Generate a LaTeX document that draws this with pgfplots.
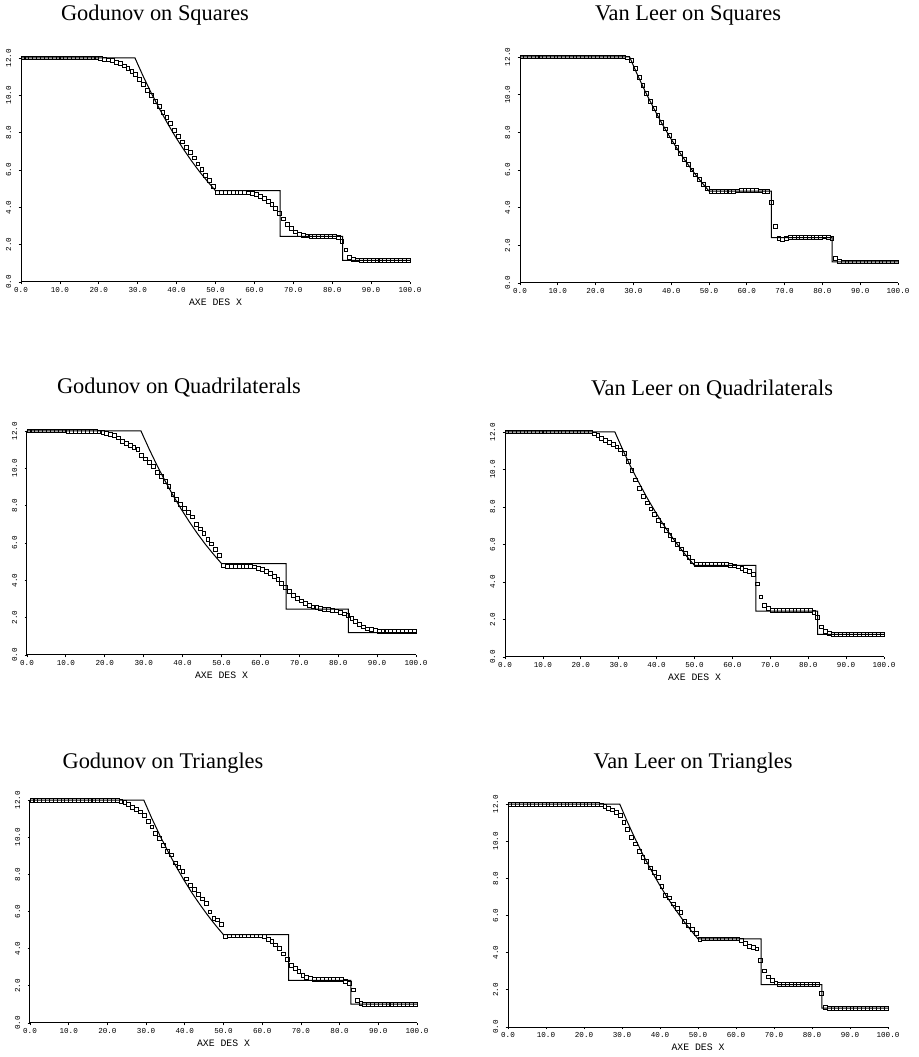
\documentclass[border=0pt]{standalone}
\usepackage{pgfplots}
\pgfplotsset{compat=1.18}
\usepackage{fontspec}
\setmainfont{Liberation Serif}
\newfontfamily\plotfont{Liberation Mono}
\newcommand{\tickfont}{\plotfont\fontsize{3.8}{4}\selectfont}
\newcommand{\labfont}{\plotfont\fontsize{4.9}{5}\selectfont}
\newcommand{\titfont}{\fontsize{11.2}{13}\selectfont}
\pgfplotsset{
  shockax/.style={
    scale only axis, clip=false, anchor=south west,
    xmin=0, xmax=100, ymin=0, ymax=12,
    axis lines=left, axis line style={-, line width=0.5pt},
    tick align=outside, major tick length=1.2pt,
    tick style={line width=0.4pt, black},
    xtick={0,10,20,30,40,50,60,70,80,90,100},
    ytick={0,2,4,6,8,10,12},
    /pgf/number format/fixed, /pgf/number format/fixed zerofill,
    /pgf/number format/precision=1, /pgf/number format/assume math mode=true,
    tick label style={font=\tickfont},
    xticklabel style={anchor=north, inner sep=0pt, yshift=-1.5pt},
    yticklabel style={xshift=-3.5pt, rotate=90, anchor=south, inner sep=0pt},
    every axis x label/.style={at={(axis description cs:0.5,0)}, anchor=center, yshift=-10pt, font=\labfont},
  },
  exact/.style={black, line width=0.5pt, no marks},
  num/.style={only marks, mark=square, mark size=0.95pt, mark options={black, line width=0.4pt}},
}
\begin{document}
\begin{tikzpicture}[x=1pt,y=1pt]
\useasboundingbox (0,0) rectangle (459,528.5);
% titles
\node[font=\titfont] at (77.5,521) {Godunov on Squares};
\node[font=\titfont] at (344,521) {Van Leer on Squares};
\node[font=\titfont] at (89.5,334.5) {Godunov on Quadrilaterals};
\node[font=\titfont] at (356,333.5) {Van Leer on Quadrilaterals};
\node[font=\titfont] at (81.5,147) {Godunov on Triangles};
\node[font=\titfont] at (346.5,147) {Van Leer on Triangles};

% ---------------- Godunov on Squares
\begin{axis}[shockax, at={(10.5pt,387.5pt)}, width=194.5pt, height=112pt, xlabel={AXE DES X}]
\addplot[exact] coordinates {(0,12)(29.3,12)(31.37,11.04)(33.44,10.14)(35.51,9.31)(37.58,8.53)(39.65,7.80)(41.72,7.13)(43.79,6.50)(45.86,5.92)(47.93,5.39)(50,4.89)(66.6,4.89)(66.6,2.45)(82.7,2.45)(82.7,1.16)(100,1.16)};
\addplot[num] coordinates {
(0.5,12)(1.5,12)(2.5,12)(3.5,12)(4.5,12)(5.5,12)(6.5,12)(7.5,12)(8.5,12)(9.5,12)
(10.5,12)(11.5,12)(12.5,12)(13.5,12)(14.5,12)(15.5,12)(16.5,12)(17.5,12)(18.5,12)(19.5,12)
(20.5,11.97)(21.5,11.94)(22.5,11.9)(23.5,11.85)(24.5,11.78)(25.5,11.69)(26.5,11.58)(27.5,11.45)(28.5,11.29)(29.5,11.1)
(30.5,10.85)(31.5,10.57)(32.5,10.28)(33.5,9.98)(34.5,9.68)(35.5,9.4)(36.5,9.1)(37.5,8.8)(38.5,8.48)(39.5,8.13)
(40.5,7.82)(41.5,7.5)(42.5,7.2)(43.5,6.93)(44.5,6.65)(45.5,6.33)(46.5,6.02)(47.5,5.72)(48.5,5.43)(49.5,5.12)
(50.5,4.82)(51.5,4.78)(52.5,4.79)(53.5,4.78)(54.5,4.78)(55.5,4.79)(56.5,4.78)(57.5,4.78)(58.5,4.77)(59.5,4.75)
(60.5,4.7)(61.5,4.6)(62.5,4.48)(63.5,4.33)(64.5,4.15)(65.5,3.95)(66.5,3.68)(67.5,3.38)(68.5,3.08)(69.5,2.85)
(70.5,2.68)(71.5,2.57)(72.5,2.5)(73.5,2.47)(74.5,2.45)(75.5,2.45)(76.5,2.45)(77.5,2.45)(78.5,2.45)(79.5,2.45)
(80.5,2.44)(81.5,2.38)(82.5,2.18)(83.5,1.72)(84.5,1.33)(85.5,1.22)(86.5,1.18)(87.5,1.16)(88.5,1.16)(89.5,1.16)
(90.5,1.16)(91.5,1.16)(92.5,1.16)(93.5,1.16)(94.5,1.16)(95.5,1.16)(96.5,1.16)(97.5,1.16)(98.5,1.16)(99.5,1.16)};
\end{axis}

% ---------------- Van Leer on Squares
\begin{axis}[shockax, at={(260pt,387pt)}, width=189pt, height=113pt]
\addplot[exact] coordinates {(0,12)(29,12)(31.1,11.04)(33.2,10.14)(35.3,9.31)(37.4,8.52)(39.5,7.80)(41.6,7.12)(43.7,6.50)(45.8,5.92)(47.9,5.38)(50,4.88)(66.5,4.88)(66.5,2.41)(82.6,2.41)(82.6,1.12)(100,1.12)};
\addplot[num] coordinates {
(0.5,12)(1.5,12)(2.5,12)(3.5,12)(4.5,12)(5.5,12)(6.5,12)(7.5,12)(8.5,12)(9.5,12)
(10.5,12)(11.5,12)(12.5,12)(13.5,12)(14.5,12)(15.5,12)(16.5,12)(17.5,12)(18.5,12)(19.5,12)
(20.5,12)(21.5,12)(22.5,12)(23.5,12)(24.5,12)(25.5,12)(26.5,12)(27.5,12)(28.5,11.95)(29.5,11.8)
(30.5,11.4)(31.5,10.92)(32.5,10.48)(33.5,10.06)(34.5,9.66)(35.5,9.28)(36.5,8.9)(37.5,8.54)(38.5,8.18)(39.5,7.84)
(40.5,7.5)(41.5,7.18)(42.5,6.87)(43.5,6.57)(44.5,6.28)(45.5,6.0)(46.5,5.74)(47.5,5.48)(48.5,5.24)(49.5,5.02)
(50.5,4.88)(51.5,4.86)(52.5,4.87)(53.5,4.86)(54.5,4.88)(55.5,4.87)(56.5,4.88)(57.5,4.89)(58.5,4.9)(59.5,4.91)
(60.5,4.92)(61.5,4.9)(62.5,4.9)(63.5,4.89)(64.5,4.88)(65.5,4.86)(66.5,4.3)(67.5,3.0)(68.5,2.36)(69.5,2.32)
(70.5,2.36)(71.5,2.4)(72.5,2.41)(73.5,2.42)(74.5,2.42)(75.5,2.43)(76.5,2.43)(77.5,2.44)(78.5,2.44)(79.5,2.44)
(80.5,2.45)(81.5,2.44)(82.5,2.36)(83.5,1.3)(84.5,1.16)(85.5,1.12)(86.5,1.12)(87.5,1.12)(88.5,1.12)(89.5,1.12)
(90.5,1.12)(91.5,1.12)(92.5,1.12)(93.5,1.12)(94.5,1.12)(95.5,1.12)(96.5,1.12)(97.5,1.12)(98.5,1.12)(99.5,1.12)};
\end{axis}

% ---------------- Godunov on Quadrilaterals
\begin{axis}[shockax, at={(13.5pt,201pt)}, width=194.5pt, height=112pt, xlabel={AXE DES X}]
\addplot[exact] coordinates {(0,12)(29.3,12)(31.37,11.05)(33.44,10.15)(35.51,9.32)(37.58,8.54)(39.65,7.81)(41.72,7.14)(43.79,6.51)(45.86,5.93)(47.93,5.40)(50,4.90)(66.6,4.90)(66.6,2.46)(82.6,2.46)(82.6,1.2)(100,1.2)};
\addplot[num] coordinates {
(0.5,12)(1.5,12)(2.5,12)(3.5,12)(4.5,12)(5.5,12)(6.5,12)(7.5,12)(8.5,12)(9.5,12)
(10.5,11.97)(11.5,11.97)(12.5,11.97)(13.5,11.97)(14.5,11.97)(15.5,11.97)(16.5,11.97)(17.5,11.96)(18.5,11.95)(19.5,11.92)
(20.5,11.89)(21.5,11.83)(22.5,11.76)(23.5,11.63)(24.5,11.45)(25.5,11.32)(26.5,11.22)(27.5,11.12)(28.5,11.0)(29.5,10.7)
(30.5,10.5)(31.5,10.3)(32.5,10.1)(33.5,9.8)(34.5,9.55)(35.5,9.3)(36.5,9.05)(37.5,8.6)(38.5,8.35)(39.5,8.08)
(40.5,7.85)(41.5,7.65)(42.5,7.4)(43.5,7.0)(44.5,6.75)(45.5,6.5)(46.5,6.2)(47.5,5.95)(48.5,5.65)(49.5,5.35)
(50.5,4.78)(51.5,4.76)(52.5,4.76)(53.5,4.76)(54.5,4.76)(55.5,4.76)(56.5,4.76)(57.5,4.75)(58.5,4.72)(59.5,4.65)
(60.5,4.57)(61.5,4.47)(62.5,4.36)(63.5,4.22)(64.5,4.03)(65.5,3.82)(66.5,3.6)(67.5,3.42)(68.5,3.2)(69.5,3.02)
(70.5,2.9)(71.5,2.76)(72.5,2.65)(73.5,2.58)(74.5,2.53)(75.5,2.49)(76.5,2.46)(77.5,2.43)(78.5,2.4)(79.5,2.36)
(80.5,2.29)(81.5,2.2)(82.5,2.1)(83.5,1.96)(84.5,1.78)(85.5,1.62)(86.5,1.5)(87.5,1.4)(88.5,1.35)(89.5,1.31)
(90.5,1.28)(91.5,1.26)(92.5,1.25)(93.5,1.25)(94.5,1.25)(95.5,1.25)(96.5,1.25)(97.5,1.25)(98.5,1.25)(99.5,1.25)};
\end{axis}

% ---------------- Van Leer on Quadrilaterals
\begin{axis}[shockax, at={(252.5pt,200pt)}, width=189.5pt, height=112.5pt, xlabel={AXE DES X}]
\addplot[exact] coordinates {(0,12)(29,12)(31.1,11.04)(33.2,10.14)(35.3,9.31)(37.4,8.52)(39.5,7.80)(41.6,7.12)(43.7,6.50)(45.8,5.92)(47.9,5.38)(50,4.88)(66.2,4.88)(66.2,2.45)(82.5,2.45)(82.5,1.2)(100,1.2)};
\addplot[num] coordinates {
(0.5,12)(1.5,12)(2.5,12)(3.5,12)(4.5,12)(5.5,12)(6.5,12)(7.5,12)(8.5,12)(9.5,12)
(10.5,12)(11.5,12)(12.5,12)(13.5,12)(14.5,12)(15.5,12)(16.5,12)(17.5,12)(18.5,12)(19.5,12)
(20.5,12)(21.5,12)(22.5,12)(23.5,11.9)(24.5,11.8)(25.5,11.65)(26.5,11.55)(27.5,11.45)(28.5,11.32)(29.5,11.2)
(30.5,11.05)(31.5,10.85)(32.5,10.45)(33.5,9.95)(34.5,9.45)(35.5,9.0)(36.5,8.55)(37.5,8.22)(38.5,7.9)(39.5,7.6)
(40.5,7.3)(41.5,7.02)(42.5,6.75)(43.5,6.5)(44.5,6.25)(45.5,6.0)(46.5,5.76)(47.5,5.53)(48.5,5.32)(49.5,5.1)
(50.5,4.95)(51.5,4.94)(52.5,4.94)(53.5,4.94)(54.5,4.94)(55.5,4.94)(56.5,4.94)(57.5,4.94)(58.5,4.94)(59.5,4.9)
(60.5,4.86)(61.5,4.8)(62.5,4.72)(63.5,4.62)(64.5,4.56)(65.5,4.4)(66.5,3.9)(67.5,3.2)(68.5,2.76)(69.5,2.58)
(70.5,2.5)(71.5,2.47)(72.5,2.47)(73.5,2.47)(74.5,2.47)(75.5,2.47)(76.5,2.47)(77.5,2.47)(78.5,2.47)(79.5,2.47)
(80.5,2.47)(81.5,2.38)(82.5,2.12)(83.5,1.6)(84.5,1.35)(85.5,1.26)(86.5,1.21)(87.5,1.21)(88.5,1.21)(89.5,1.21)
(90.5,1.21)(91.5,1.21)(92.5,1.21)(93.5,1.21)(94.5,1.21)(95.5,1.21)(96.5,1.21)(97.5,1.21)(98.5,1.21)(99.5,1.21)};
\end{axis}

% ---------------- Godunov on Triangles
\begin{axis}[shockax, at={(15pt,17pt)}, width=193.5pt, height=111.5pt, xlabel={AXE DES X}]
\addplot[exact] coordinates {(0,12)(29.4,12)(31.46,11.02)(33.52,10.11)(35.58,9.26)(37.64,8.46)(39.7,7.72)(41.76,7.03)(43.82,6.40)(45.88,5.81)(47.94,5.26)(50,4.75)(66.8,4.75)(66.8,2.29)(82.9,2.29)(82.9,1.02)(100,1.02)};
\addplot[num] coordinates {
(0.5,12)(1.5,12)(2.5,12)(3.5,12)(4.5,12)(5.5,12)(6.5,12)(7.5,12)(8.5,12)(9.5,12)
(10.5,12)(11.5,12)(12.5,12)(13.5,12)(14.5,12)(15.5,12)(16.5,12)(17.5,12)(18.5,12)(19.5,12)
(20.5,12)(21.5,12)(22.5,11.97)(23.5,11.93)(24.5,11.86)(25.5,11.76)(26.5,11.62)(27.5,11.5)(28.5,11.36)(29.5,11.19)
(30.5,10.87)(31.5,10.55)(32.5,10.2)(33.5,9.95)(34.5,9.55)(35.5,9.25)(36.5,9.05)(37.5,8.62)(38.5,8.38)(39.5,8.15)
(40.5,7.75)(41.5,7.4)(42.5,7.17)(43.5,6.92)(44.5,6.68)(45.5,6.45)(46.5,5.98)(47.5,5.65)(48.5,5.55)(49.5,5.3)
(50.5,4.68)(51.5,4.69)(52.5,4.69)(53.5,4.69)(54.5,4.69)(55.5,4.69)(56.5,4.69)(57.5,4.69)(58.5,4.69)(59.5,4.69)
(60.5,4.64)(61.5,4.52)(62.5,4.4)(63.5,4.2)(64.5,4.0)(65.5,3.72)(66.5,3.42)(67.5,3.12)(68.5,2.92)(69.5,2.76)
(70.5,2.55)(71.5,2.44)(72.5,2.39)(73.5,2.36)(74.5,2.33)(75.5,2.33)(76.5,2.33)(77.5,2.33)(78.5,2.33)(79.5,2.33)
(80.5,2.33)(81.5,2.26)(82.5,2.15)(83.5,1.78)(84.5,1.2)(85.5,1.06)(86.5,1.0)(87.5,1.0)(88.5,1.0)(89.5,1.0)
(90.5,1.0)(91.5,1.0)(92.5,1.0)(93.5,1.0)(94.5,1.0)(95.5,1.0)(96.5,1.0)(97.5,1.0)(98.5,1.0)(99.5,1.0)};
\end{axis}

% ---------------- Van Leer on Triangles
\begin{axis}[shockax, at={(254pt,15pt)}, width=190pt, height=111.5pt, xlabel={AXE DES X}]
\addplot[exact] coordinates {(0,12)(29.4,12)(31.46,11.02)(33.52,10.10)(35.58,9.25)(37.64,8.45)(39.7,7.71)(41.76,7.02)(43.82,6.39)(45.88,5.80)(47.94,5.25)(50,4.74)(66.6,4.74)(66.6,2.28)(82.6,2.28)(82.6,1.02)(100,1.02)};
\addplot[num] coordinates {
(0.5,12)(1.5,12)(2.5,12)(3.5,12)(4.5,12)(5.5,12)(6.5,12)(7.5,12)(8.5,12)(9.5,12)
(10.5,12)(11.5,12)(12.5,12)(13.5,12)(14.5,12)(15.5,12)(16.5,12)(17.5,12)(18.5,12)(19.5,12)
(20.5,12)(21.5,12)(22.5,12)(23.5,12)(24.5,11.95)(25.5,11.87)(26.5,11.78)(27.5,11.68)(28.5,11.55)(29.5,11.4)
(30.5,11.02)(31.5,10.62)(32.5,10.2)(33.5,9.85)(34.5,9.45)(35.5,9.12)(36.5,8.92)(37.5,8.56)(38.5,8.3)(39.5,8.05)
(40.5,7.55)(41.5,7.08)(42.5,6.95)(43.5,6.62)(44.5,6.38)(45.5,6.15)(46.5,5.68)(47.5,5.48)(48.5,5.25)(49.5,5.02)
(50.5,4.72)(51.5,4.74)(52.5,4.74)(53.5,4.74)(54.5,4.74)(55.5,4.74)(56.5,4.74)(57.5,4.74)(58.5,4.74)(59.5,4.74)
(60.5,4.74)(61.5,4.68)(62.5,4.5)(63.5,4.35)(64.5,4.28)(65.5,4.2)(66.5,3.6)(67.5,3.02)(68.5,2.7)(69.5,2.5)
(70.5,2.37)(71.5,2.31)(72.5,2.31)(73.5,2.31)(74.5,2.31)(75.5,2.31)(76.5,2.31)(77.5,2.31)(78.5,2.31)(79.5,2.31)
(80.5,2.31)(81.5,2.31)(82.5,1.8)(83.5,1.06)(84.5,1.02)(85.5,1.02)(86.5,1.02)(87.5,1.02)(88.5,1.02)(89.5,1.02)
(90.5,1.02)(91.5,1.02)(92.5,1.02)(93.5,1.02)(94.5,1.02)(95.5,1.02)(96.5,1.02)(97.5,1.02)(98.5,1.02)(99.5,1.02)};
\end{axis}
\end{tikzpicture}
\end{document}
